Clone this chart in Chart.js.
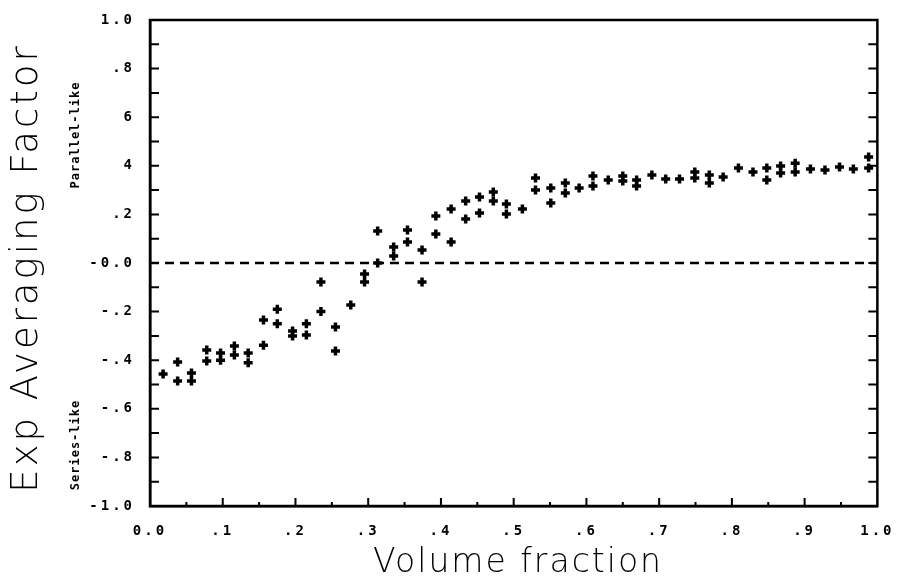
<!DOCTYPE html>
<html>
<head>
<meta charset="utf-8">
<script src="https://cdn.jsdelivr.net/npm/chart.js@4/dist/chart.umd.min.js"></script>
<style>
    html, body { margin: 0; padding: 0; background: #fff; }
    #wrap { width: 899px; height: 583px; }
</style>
</head>
<body>
<div id="wrap"><canvas id="averagingChart"></canvas></div>
<script>
// Volume fraction of each measured column of points
const volFrac = [0.018, 0.038, 0.057, 0.078, 0.097, 0.116, 0.135, 0.156, 0.175, 0.196,
    0.215, 0.235, 0.255, 0.276, 0.295, 0.313, 0.335, 0.354, 0.374, 0.393,
    0.414, 0.434, 0.453, 0.472, 0.490, 0.512, 0.530, 0.551, 0.571, 0.590,
    0.609, 0.630, 0.650, 0.669, 0.690, 0.709, 0.728, 0.749, 0.769, 0.788,
    0.809, 0.829, 0.848, 0.867, 0.887, 0.908, 0.928, 0.948, 0.967, 0.988];

// Upper and lower estimate of the averaging factor (null where only one point)
const upperFactor = [-0.457, -0.407, -0.453, -0.358, -0.370, -0.342, -0.370, -0.235, -0.190, -0.280,
    -0.250, -0.078, -0.263, -0.173, -0.045, 0.132, 0.066, 0.136, 0.053, 0.193,
    0.222, 0.255, 0.272, 0.292, 0.243, 0.222, 0.350, 0.309, 0.329, 0.309,
    0.358, 0.342, 0.358, 0.342, 0.362, 0.346, 0.346, 0.374, 0.362, 0.354,
    0.391, 0.374, 0.391, 0.399, 0.410, 0.387, 0.383, 0.395, 0.387, 0.436];
const lowerFactor = [null, -0.486, -0.486, -0.403, -0.400, -0.379, -0.410, -0.338, -0.250, -0.300,
    -0.296, -0.200, -0.362, null, -0.078, 0.000, 0.029, 0.086, -0.078, 0.119,
    0.086, 0.181, 0.206, 0.255, 0.202, null, 0.300, 0.247, 0.288, null,
    0.317, null, 0.337, 0.317, null, null, null, 0.350, 0.329, null,
    null, null, 0.342, 0.370, 0.374, null, null, null, null, 0.391];

// Axis ticks and labels
const xTickValues = [0, 0.1, 0.2, 0.3, 0.4, 0.5, 0.6, 0.7, 0.8, 0.9, 1.0];
const xTickLabels = ['0.0', '.1', '.2', '.3', '.4', '.5', '.6', '.7', '.8', '.9', '1.0'];
const yTickValues = [1.0, 0.8, 0.6, 0.4, 0.2, 0, -0.2, -0.4, -0.6, -0.8, -1.0];
const yTickLabels = ['1.0', '.8', '6', '4', '.2', '-0.0', '-.2', '-.4', '-.6', '-.8', '-1.0'];
const xMarks = [0.05, 0.1, 0.15, 0.2, 0.25, 0.3, 0.35, 0.4, 0.45, 0.5, 0.55, 0.6, 0.65, 0.7, 0.75, 0.8, 0.85, 0.9, 0.95];
const yMarks = [0.9, 0.8, 0.7, 0.6, 0.5, 0.4, 0.3, 0.2, 0.1, 0, -0.1, -0.2, -0.3, -0.4, -0.5, -0.6, -0.7, -0.8, -0.9];

// Dashed reference line at zero
const zeroLine = [{ x: 0, y: 0 }, { x: 1, y: 0 }];

const toPoints = (xs, ys) => xs.map((x, i) => ({ x: x, y: ys[i] })).filter(p => p.y !== null);

// Inward tick marks and the box round the plot
const framePlugin = {
    id: 'frame',
    afterDraw(chart) {
        const ctx = chart.ctx;
        const a = chart.chartArea;
        const xs = chart.scales.x;
        const ys = chart.scales.y;
        ctx.save();
        ctx.strokeStyle = '#000';
        ctx.lineWidth = 2.5;
        ctx.strokeRect(a.left, a.top, a.right - a.left, a.bottom - a.top);
        ctx.lineWidth = 2;
        ctx.beginPath();
        yMarks.forEach(v => {
            const py = ys.getPixelForValue(v);
            ctx.moveTo(a.left, py); ctx.lineTo(a.left + 9, py);
            ctx.moveTo(a.right, py); ctx.lineTo(a.right - 9, py);
        });
        xMarks.forEach((v, i) => {
            const px = xs.getPixelForValue(v);
            const len = i % 2 === 1 ? 8 : 4;
            ctx.moveTo(px, a.bottom); ctx.lineTo(px, a.bottom - len);
        });
        ctx.stroke();
        ctx.restore();
    }
};

// Axis titles and the side notes, plotter style with wide spacing
const textPlugin = {
    id: 'texts',
    beforeDraw(chart) {
        chart.ctx.letterSpacing = '3px';
    },
    afterDraw(chart) {
        const ctx = chart.ctx;
        ctx.save();
        ctx.fillStyle = '#000';
        ctx.textAlign = 'center';
        ctx.textBaseline = 'middle';

        ctx.letterSpacing = '2px';
        ctx.font = '300 33px "DejaVu Sans"';
        ctx.fillText('Volume fraction', 518, 563);

        ctx.save();
        ctx.translate(27, 268);
        ctx.rotate(-Math.PI / 2);
        ctx.letterSpacing = '3px';
        ctx.font = '300 37px "DejaVu Sans"';
        ctx.fillText('Exp Averaging Factor', 0, 0);
        ctx.restore();

        ctx.letterSpacing = '1px';
        ctx.font = 'bold 12px "DejaVu Sans Mono"';
        ctx.save();
        ctx.translate(76, 135);
        ctx.rotate(-Math.PI / 2);
        ctx.fillText('Parallel-like', 0, 0);
        ctx.restore();
        ctx.save();
        ctx.translate(76, 445);
        ctx.rotate(-Math.PI / 2);
        ctx.fillText('Series-like', 0, 0);
        ctx.restore();
        ctx.restore();
    }
};

const tickFont = { family: '"DejaVu Sans Mono"', size: 14, weight: 'bold' };

const markerStyle = {
    pointStyle: 'cross',
    radius: 4.5,
    borderWidth: 3.5,
    borderColor: '#000',
    backgroundColor: '#000',
};

new Chart(document.getElementById('averagingChart').getContext('2d'), {
    type: 'scatter',
    data: {
        datasets: [
            Object.assign({ label: 'upper', data: toPoints(volFrac, upperFactor) }, markerStyle),
            Object.assign({ label: 'lower', data: toPoints(volFrac, lowerFactor) }, markerStyle),
            {
                label: 'zero',
                type: 'line',
                data: zeroLine,
                showLine: true,
                pointRadius: 0,
                borderColor: '#000',
                borderWidth: 2.5,
                borderDash: [9, 6],
                fill: false,
            },
        ],
    },
    options: {
        responsive: true,
        maintainAspectRatio: false,
        animation: false,
        layout: { padding: { top: 20, right: 16, left: 0, bottom: 0 } },
        scales: {
            x: {
                type: 'linear',
                min: 0,
                max: 1,
                afterBuildTicks: scale => { scale.ticks = xTickValues.map(v => ({ value: v })); },
                afterFit: scale => { scale.height = 77; },
                ticks: {
                    autoSkip: false,
                    maxRotation: 0,
                    padding: 9,
                    color: '#000',
                    font: tickFont,
                    callback: (v, i) => xTickLabels[i],
                },
                grid: { display: false },
                border: { display: true, color: '#000', width: 2.5 },
            },
            y: {
                type: 'linear',
                min: -1,
                max: 1,
                afterBuildTicks: scale => { scale.ticks = yTickValues.map(v => ({ value: v })); },
                afterFit: scale => { scale.width = 150; },
                ticks: {
                    autoSkip: false,
                    padding: 7,
                    color: '#000',
                    font: tickFont,
                    callback: (v, i) => yTickLabels[i],
                },
                grid: { display: false },
                border: { display: true, color: '#000', width: 2.5 },
            },
        },
        plugins: {
            legend: { display: false },
            tooltip: { enabled: false },
        },
    },
    plugins: [framePlugin, textPlugin],
});
</script>
</body>
</html>
